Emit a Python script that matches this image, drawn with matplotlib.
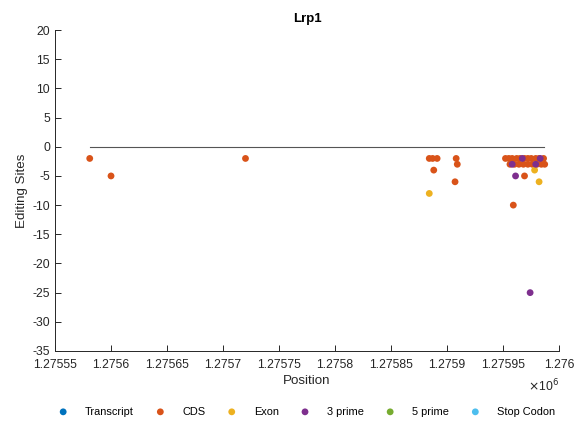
import numpy as np
import matplotlib
matplotlib.use("Agg")
import matplotlib.pyplot as plt

plt.rcParams["font.family"] = ["Liberation Sans", "DejaVu Sans"]
plt.rcParams["axes.unicode_minus"] = False

categories = ["Transcript", "CDS", "Exon", "3 prime", "5 prime", "Stop Codon"]
colors = ["#0072BD", "#D95319", "#EDB120", "#7E2F8E", "#77AC30", "#4DBEEE"]

cds_pos = [1275581, 1275600, 1275720,
           1275884, 1275887, 1275891, 1275888, 1275908, 1275909, 1275907,
           1275952, 1275955, 1275958, 1275962, 1275965, 1275969, 1275972,
           1275975, 1275979, 1275982, 1275986,
           1275956, 1275960, 1275964, 1275968, 1275972, 1275976, 1275980,
           1275984, 1275987, 1275969, 1275959]
cds_val = [-2, -5, -2,
           -2, -2, -2, -4, -2, -3, -6,
           -2, -2, -2, -2, -2, -2, -2,
           -2, -2, -2, -2,
           -3, -3, -3, -3, -3, -3, -3,
           -3, -3, -5, -10]
exon_pos = [1275884, 1275978, 1275982]
exon_val = [-8, -4, -6]
p3_pos = [1275967, 1275983, 1275958, 1275979, 1275961, 1275974]
p3_val = [-2, -2, -3, -3, -5, -25]
empty = []

series_pos = [empty, cds_pos, exon_pos, p3_pos, empty, empty]
series_val = [empty, cds_val, exon_val, p3_val, empty, empty]

gene_span = [1275581, 1275986]

fig = plt.figure(figsize=(5.85, 4.36), dpi=100)
ax = fig.add_axes([0.094, 0.195, 0.862, 0.736])

ax.plot(gene_span, [0, 0], color="#555555", linewidth=0.8, zorder=1)
for name, c, xs, ys in zip(categories, colors, series_pos, series_val):
    ax.scatter(xs, ys, s=24, color=c, edgecolors="none", label=name, zorder=2)

ax.set_xlim(1275550, 1276000)
ax.set_ylim(-35, 20)
ax.set_yticks(np.arange(-35, 21, 5))
xt = np.arange(1275550, 1276001, 50)
ax.set_xticks(xt)
ax.set_xticklabels(["%g" % (v / 1e6) for v in xt])

for s in ["top", "right"]:
    ax.spines[s].set_visible(False)
for s in ["left", "bottom"]:
    ax.spines[s].set_color("#262626")
    ax.spines[s].set_linewidth(0.7)
ax.tick_params(direction="in", length=4, width=0.7, colors="#262626",
               labelsize=8.8)
ax.tick_params(axis="x", pad=5.5)
ax.tick_params(axis="y", pad=3.6)

ax.set_title("Lrp1", fontsize=9.5, fontweight="bold", color="#000000", pad=5.5)
ax.set_xlabel("Position", fontsize=9.6, color="#262626", labelpad=3.5)
ax.set_ylabel("Editing Sites", fontsize=9.6, color="#262626", labelpad=3)
ax.text(1.0, -0.108, r"$\times$10$^6$", transform=ax.transAxes,
        ha="right", va="center", fontsize=8.8, color="#262626")

fig.legend(loc="center", bbox_to_anchor=(0.524, 0.0557), ncol=6, frameon=False,
           fontsize=7.9, handletextpad=1.5, columnspacing=1.9,
           markerscale=1.0, handlelength=1.0)

fig.savefig("out.png", dpi=100)
